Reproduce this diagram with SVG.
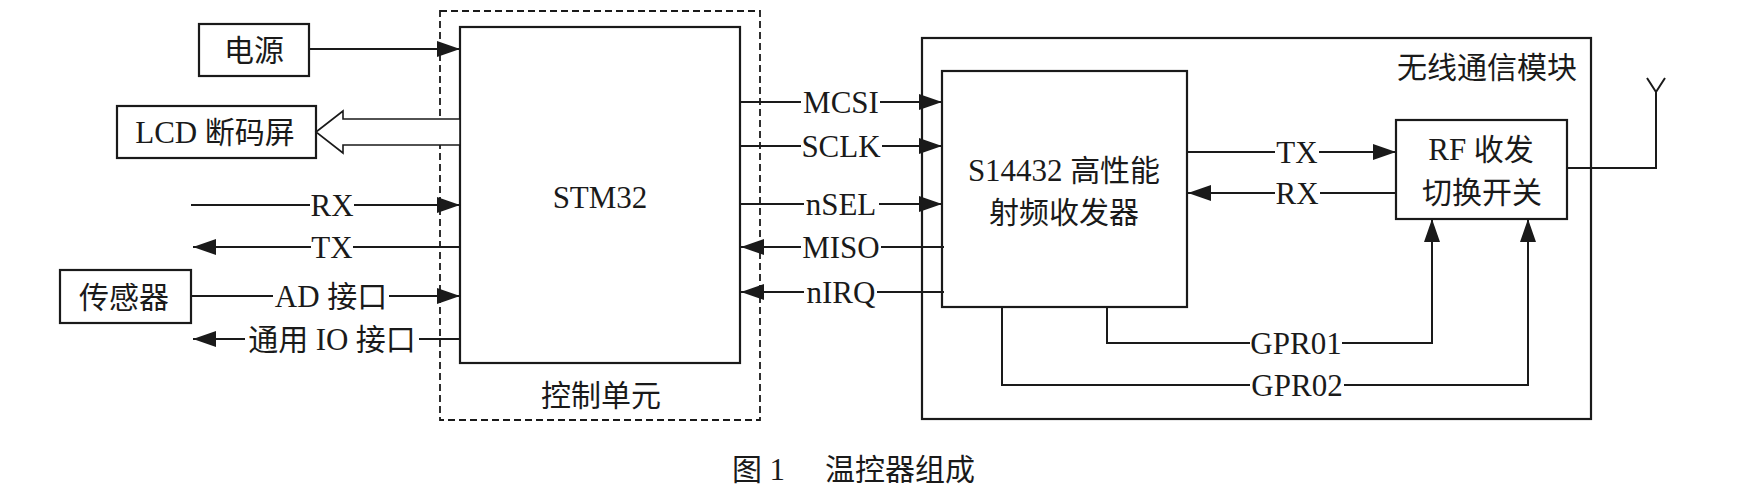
<svg xmlns="http://www.w3.org/2000/svg" width="1748" height="497" viewBox="0 0 1748 497">
<defs>
<style>
.box{fill:#fff;stroke:#1a1a1a;stroke-width:2.2}
.ln{fill:none;stroke:#1a1a1a;stroke-width:2}
.t{font-family:"Liberation Serif","Noto Sans CJK SC",serif;font-size:31px;fill:#1a1a1a;text-anchor:middle}
.c{font-family:"Liberation Serif","Noto Sans CJK SC",serif;font-size:30px;fill:#1a1a1a;text-anchor:middle}
.l{font-size:31px}
</style>
<marker id="ah" markerUnits="userSpaceOnUse" markerWidth="24" markerHeight="17" refX="23" refY="8" orient="auto">
<path d="M0,0 L23,8 L0,16 z" fill="#1a1a1a"/>
</marker>
</defs>
<rect width="1748" height="497" fill="#fff"/>

<g id="control-unit">
<rect x="440" y="11" width="320" height="409" fill="none" stroke="#1a1a1a" stroke-width="1.8" stroke-dasharray="7,4"/>
<text class="c" x="601" y="406">控制单元</text>
</g>
<g id="stm32">
<rect class="box" x="460" y="27" width="280" height="336"/>
<text class="t" x="600" y="208">STM32</text>
</g>
<g id="power">
<rect class="box" x="199" y="24" width="110" height="52"/>
<text class="c" x="254" y="61">电源</text>
</g>
<g id="lcd">
<rect class="box" x="117" y="106" width="199" height="52"/>
<text class="c" x="215" y="143"><tspan class="l">LCD</tspan> 断码屏</text>
</g>
<g id="sensor">
<rect class="box" x="60" y="270" width="131" height="53"/>
<text class="c" x="124" y="308">传感器</text>
</g>
<g id="wireless-module">
<rect x="922" y="38" width="669" height="381" fill="none" stroke="#1a1a1a" stroke-width="2.2"/>
<text class="c" x="1487" y="78">无线通信模块</text>
</g>
<g id="s14432">
<rect class="box" x="942" y="71" width="245" height="236"/>
<text class="c" x="1064" y="181"><tspan class="l">S14432</tspan> 高性能</text>
<text class="c" x="1064" y="223">射频收发器</text>
</g>
<g id="rf-switch">
<rect class="box" x="1396" y="120" width="171" height="99"/>
<text class="c" x="1481" y="160"><tspan class="l">RF</tspan> 收发</text>
<text class="c" x="1482" y="203">切换开关</text>
</g>
<g id="antenna">
<path class="ln" d="M1567,168 H1656 V92 M1647,78 L1656,92 L1665,78"/>
</g>

<g id="connectors">
<line class="ln" x1="309" y1="49" x2="460" y2="49" marker-end="url(#ah)"/>
<polygon points="316,132 343,111 343,119 460,119 460,145 343,145 343,153" fill="#fff" stroke="#1a1a1a" stroke-width="1.6"/>
<line class="ln" x1="191" y1="205" x2="310" y2="205"/>
<line class="ln" x1="354" y1="205" x2="460" y2="205" marker-end="url(#ah)"/>
<text class="t" x="332" y="215.5">RX</text>
<line class="ln" x1="460" y1="247" x2="353" y2="247"/>
<line class="ln" x1="311" y1="247" x2="193" y2="247" marker-end="url(#ah)"/>
<text class="t" x="332" y="257.5">TX</text>
<line class="ln" x1="191" y1="296" x2="273" y2="296"/>
<line class="ln" x1="389" y1="296" x2="460" y2="296" marker-end="url(#ah)"/>
<text class="c" x="331" y="307"><tspan class="l">AD</tspan> 接口</text>
<line class="ln" x1="460" y1="339" x2="419" y2="339"/>
<line class="ln" x1="245" y1="339" x2="193" y2="339" marker-end="url(#ah)"/>
<text class="c" x="332" y="350">通用 <tspan class="l">IO</tspan> 接口</text>
<line class="ln" x1="740" y1="102" x2="801" y2="102"/>
<line class="ln" x1="880" y1="102" x2="942" y2="102" marker-end="url(#ah)"/>
<text class="t" x="841" y="112.5">MCSI</text>
<line class="ln" x1="740" y1="146" x2="801" y2="146"/>
<line class="ln" x1="882" y1="146" x2="942" y2="146" marker-end="url(#ah)"/>
<text class="t" x="841" y="156.5">SCLK</text>
<line class="ln" x1="740" y1="204" x2="804" y2="204"/>
<line class="ln" x1="879" y1="204" x2="942" y2="204" marker-end="url(#ah)"/>
<text class="t" x="841" y="214.5">nSEL</text>
<line class="ln" x1="944" y1="247" x2="881" y2="247"/>
<line class="ln" x1="801" y1="247" x2="741" y2="247" marker-end="url(#ah)"/>
<text class="t" x="841" y="257.5">MISO</text>
<line class="ln" x1="944" y1="292" x2="877" y2="292"/>
<line class="ln" x1="804" y1="292" x2="741" y2="292" marker-end="url(#ah)"/>
<text class="t" x="841" y="302.5">nIRQ</text>
<line class="ln" x1="1187" y1="152" x2="1275" y2="152"/>
<line class="ln" x1="1319" y1="152" x2="1396" y2="152" marker-end="url(#ah)"/>
<text class="t" x="1297" y="162.5">TX</text>
<line class="ln" x1="1396" y1="193" x2="1320" y2="193"/>
<line class="ln" x1="1275" y1="193" x2="1188" y2="193" marker-end="url(#ah)"/>
<text class="t" x="1297" y="203.5">RX</text>
<path class="ln" d="M1107,307 V343 H1250"/>
<path class="ln" d="M1342,343 H1432 V219" marker-end="url(#ah)"/>
<text class="t" x="1296" y="353.5">GPR01</text>
<path class="ln" d="M1002,307 V385 H1250"/>
<path class="ln" d="M1344,385 H1528 V219" marker-end="url(#ah)"/>
<text class="t" x="1297" y="395.5">GPR02</text>
</g>

<g id="caption">
<text class="c" x="732" y="480" style="text-anchor:start">图 <tspan class="l">1</tspan></text>
<text class="c" x="825" y="480" style="text-anchor:start">温控器组成</text>
</g>
</svg>
